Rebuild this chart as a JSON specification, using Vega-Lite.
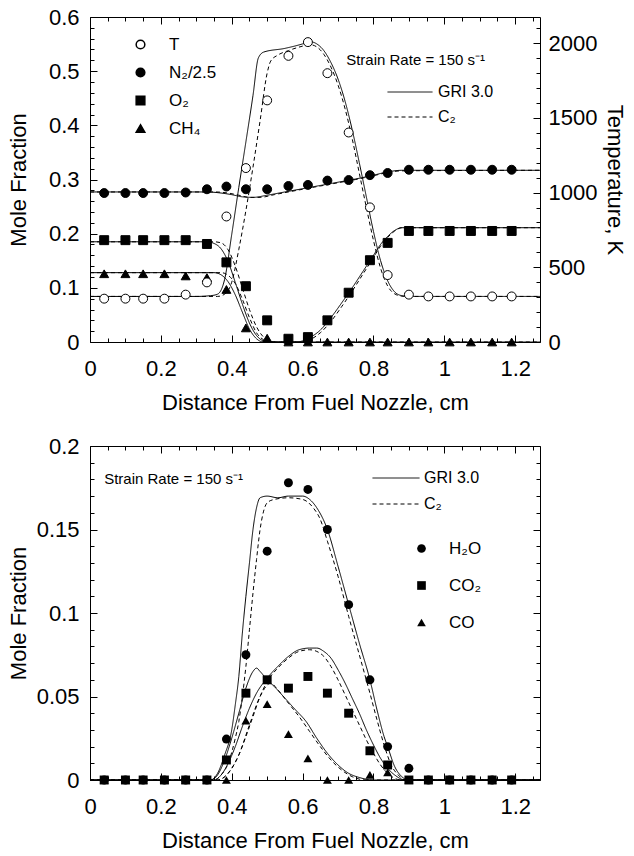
{
  "$schema": "https://vega.github.io/schema/vega-lite/v6.json",
  "padding": {"left": 6, "top": 5, "right": 5, "bottom": 0},
  "spacing": 20,
  "config": {
    "font": "Liberation Sans",
    "view": {"stroke": "black", "strokeWidth": 1},
    "axis": {
      "labelFont": "Liberation Sans", "titleFont": "Liberation Sans",
      "labelFontSize": 22, "titleFontSize": 22, "titleFontWeight": "normal",
      "labelColor": "black", "titleColor": "black", "tickColor": "black",
      "domain": false, "grid": false, "labelOverlap": false, "labelFlush": false, "tickCount": 1000
    },
    "axisX": {"labelPadding": 23, "titlePadding": 10},
    "axisY": {"labelPadding": 18},
    "legend": {"labelFont": "Liberation Sans", "labelColor": "black"}
  },
  "resolve": {
    "scale": {"shape": "independent", "fill": "independent", "strokeDash": "independent"},
    "legend": {"shape": "independent", "fill": "independent", "strokeDash": "independent"}
  },
  "datasets": {
    "top_points": [
      {"x": 0.04, "species": "N₂/2.5", "value": 0.275}, {"x": 0.1, "species": "N₂/2.5", "value": 0.275}, {"x": 0.15, "species": "N₂/2.5", "value": 0.275}, {"x": 0.21, "species": "N₂/2.5", "value": 0.275}, {"x": 0.27, "species": "N₂/2.5", "value": 0.276}, {"x": 0.33, "species": "N₂/2.5", "value": 0.282}, {"x": 0.385, "species": "N₂/2.5", "value": 0.287}, {"x": 0.44, "species": "N₂/2.5", "value": 0.282}, {"x": 0.5, "species": "N₂/2.5", "value": 0.282}, {"x": 0.56, "species": "N₂/2.5", "value": 0.288}, {"x": 0.615, "species": "N₂/2.5", "value": 0.29}, {"x": 0.67, "species": "N₂/2.5", "value": 0.298}, {"x": 0.73, "species": "N₂/2.5", "value": 0.299}, {"x": 0.79, "species": "N₂/2.5", "value": 0.308}, {"x": 0.84, "species": "N₂/2.5", "value": 0.312}, {"x": 0.9, "species": "N₂/2.5", "value": 0.318}, {"x": 0.955, "species": "N₂/2.5", "value": 0.318}, {"x": 1.015, "species": "N₂/2.5", "value": 0.318}, {"x": 1.075, "species": "N₂/2.5", "value": 0.318}, {"x": 1.135, "species": "N₂/2.5", "value": 0.318}, {"x": 1.19, "species": "N₂/2.5", "value": 0.318},
      {"x": 0.04, "species": "O₂", "value": 0.188}, {"x": 0.1, "species": "O₂", "value": 0.188}, {"x": 0.15, "species": "O₂", "value": 0.188}, {"x": 0.21, "species": "O₂", "value": 0.188}, {"x": 0.27, "species": "O₂", "value": 0.188}, {"x": 0.33, "species": "O₂", "value": 0.181}, {"x": 0.385, "species": "O₂", "value": 0.147}, {"x": 0.44, "species": "O₂", "value": 0.103}, {"x": 0.5, "species": "O₂", "value": 0.04}, {"x": 0.56, "species": "O₂", "value": 0.006}, {"x": 0.615, "species": "O₂", "value": 0.009}, {"x": 0.67, "species": "O₂", "value": 0.04}, {"x": 0.73, "species": "O₂", "value": 0.091}, {"x": 0.79, "species": "O₂", "value": 0.151}, {"x": 0.84, "species": "O₂", "value": 0.183}, {"x": 0.9, "species": "O₂", "value": 0.205}, {"x": 0.955, "species": "O₂", "value": 0.205}, {"x": 1.015, "species": "O₂", "value": 0.205}, {"x": 1.075, "species": "O₂", "value": 0.205}, {"x": 1.135, "species": "O₂", "value": 0.205}, {"x": 1.19, "species": "O₂", "value": 0.205},
      {"x": 0.04, "species": "CH₄", "value": 0.126}, {"x": 0.1, "species": "CH₄", "value": 0.126}, {"x": 0.15, "species": "CH₄", "value": 0.126}, {"x": 0.21, "species": "CH₄", "value": 0.126}, {"x": 0.27, "species": "CH₄", "value": 0.122}, {"x": 0.33, "species": "CH₄", "value": 0.119}, {"x": 0.385, "species": "CH₄", "value": 0.097}, {"x": 0.44, "species": "CH₄", "value": 0.026}, {"x": 0.5, "species": "CH₄", "value": 0.007}, {"x": 0.56, "species": "CH₄", "value": 0}, {"x": 0.615, "species": "CH₄", "value": 0}, {"x": 0.67, "species": "CH₄", "value": 0}, {"x": 0.73, "species": "CH₄", "value": 0}, {"x": 0.79, "species": "CH₄", "value": 0}, {"x": 0.84, "species": "CH₄", "value": 0}, {"x": 0.9, "species": "CH₄", "value": 0}, {"x": 0.955, "species": "CH₄", "value": 0}, {"x": 1.015, "species": "CH₄", "value": 0}, {"x": 1.075, "species": "CH₄", "value": 0}, {"x": 1.135, "species": "CH₄", "value": 0}, {"x": 1.19, "species": "CH₄", "value": 0}
    ],
    "top_T_points": [
      {"x": 0.04, "species": "T", "value": 290}, {"x": 0.1, "species": "T", "value": 290}, {"x": 0.15, "species": "T", "value": 290}, {"x": 0.21, "species": "T", "value": 290}, {"x": 0.27, "species": "T", "value": 317}, {"x": 0.33, "species": "T", "value": 399}, {"x": 0.385, "species": "T", "value": 840}, {"x": 0.44, "species": "T", "value": 1164}, {"x": 0.5, "species": "T", "value": 1617}, {"x": 0.56, "species": "T", "value": 1915}, {"x": 0.615, "species": "T", "value": 2007}, {"x": 0.67, "species": "T", "value": 1799}, {"x": 0.73, "species": "T", "value": 1402}, {"x": 0.79, "species": "T", "value": 901}, {"x": 0.84, "species": "T", "value": 448}, {"x": 0.9, "species": "T", "value": 317}, {"x": 0.955, "species": "T", "value": 305}, {"x": 1.015, "species": "T", "value": 305}, {"x": 1.075, "species": "T", "value": 305}, {"x": 1.135, "species": "T", "value": 305}, {"x": 1.19, "species": "T", "value": 305}
    ],
    "top_lines": [
      {"x": 0, "species": "N₂/2.5", "model": "GRI 3.0", "value": 0.277}, {"x": 0.33, "species": "N₂/2.5", "model": "GRI 3.0", "value": 0.277}, {"x": 0.37, "species": "N₂/2.5", "model": "GRI 3.0", "value": 0.275}, {"x": 0.4, "species": "N₂/2.5", "model": "GRI 3.0", "value": 0.272}, {"x": 0.43, "species": "N₂/2.5", "model": "GRI 3.0", "value": 0.268}, {"x": 0.46, "species": "N₂/2.5", "model": "GRI 3.0", "value": 0.267}, {"x": 0.5, "species": "N₂/2.5", "model": "GRI 3.0", "value": 0.271}, {"x": 0.55, "species": "N₂/2.5", "model": "GRI 3.0", "value": 0.277}, {"x": 0.6, "species": "N₂/2.5", "model": "GRI 3.0", "value": 0.283}, {"x": 0.65, "species": "N₂/2.5", "model": "GRI 3.0", "value": 0.289}, {"x": 0.7, "species": "N₂/2.5", "model": "GRI 3.0", "value": 0.295}, {"x": 0.75, "species": "N₂/2.5", "model": "GRI 3.0", "value": 0.301}, {"x": 0.8, "species": "N₂/2.5", "model": "GRI 3.0", "value": 0.308}, {"x": 0.84, "species": "N₂/2.5", "model": "GRI 3.0", "value": 0.314}, {"x": 0.88, "species": "N₂/2.5", "model": "GRI 3.0", "value": 0.317}, {"x": 1.27, "species": "N₂/2.5", "model": "GRI 3.0", "value": 0.317},
      {"x": 0, "species": "N₂/2.5", "model": "C₂", "value": 0.277}, {"x": 0.35, "species": "N₂/2.5", "model": "C₂", "value": 0.277}, {"x": 0.39, "species": "N₂/2.5", "model": "C₂", "value": 0.275}, {"x": 0.42, "species": "N₂/2.5", "model": "C₂", "value": 0.271}, {"x": 0.45, "species": "N₂/2.5", "model": "C₂", "value": 0.267}, {"x": 0.48, "species": "N₂/2.5", "model": "C₂", "value": 0.267}, {"x": 0.52, "species": "N₂/2.5", "model": "C₂", "value": 0.272}, {"x": 0.56, "species": "N₂/2.5", "model": "C₂", "value": 0.277}, {"x": 0.6, "species": "N₂/2.5", "model": "C₂", "value": 0.282}, {"x": 0.65, "species": "N₂/2.5", "model": "C₂", "value": 0.288}, {"x": 0.7, "species": "N₂/2.5", "model": "C₂", "value": 0.294}, {"x": 0.75, "species": "N₂/2.5", "model": "C₂", "value": 0.3}, {"x": 0.8, "species": "N₂/2.5", "model": "C₂", "value": 0.307}, {"x": 0.84, "species": "N₂/2.5", "model": "C₂", "value": 0.313}, {"x": 0.88, "species": "N₂/2.5", "model": "C₂", "value": 0.316}, {"x": 1.27, "species": "N₂/2.5", "model": "C₂", "value": 0.317},
      {"x": 0, "species": "O₂", "model": "GRI 3.0", "value": 0.185}, {"x": 0.33, "species": "O₂", "model": "GRI 3.0", "value": 0.185}, {"x": 0.35, "species": "O₂", "model": "GRI 3.0", "value": 0.182}, {"x": 0.37, "species": "O₂", "model": "GRI 3.0", "value": 0.172}, {"x": 0.39, "species": "O₂", "model": "GRI 3.0", "value": 0.148}, {"x": 0.41, "species": "O₂", "model": "GRI 3.0", "value": 0.11}, {"x": 0.43, "species": "O₂", "model": "GRI 3.0", "value": 0.07}, {"x": 0.45, "species": "O₂", "model": "GRI 3.0", "value": 0.035}, {"x": 0.47, "species": "O₂", "model": "GRI 3.0", "value": 0.012}, {"x": 0.49, "species": "O₂", "model": "GRI 3.0", "value": 0.002}, {"x": 0.51, "species": "O₂", "model": "GRI 3.0", "value": 0}, {"x": 0.58, "species": "O₂", "model": "GRI 3.0", "value": 0}, {"x": 0.6, "species": "O₂", "model": "GRI 3.0", "value": 0.002}, {"x": 0.62, "species": "O₂", "model": "GRI 3.0", "value": 0.008}, {"x": 0.65, "species": "O₂", "model": "GRI 3.0", "value": 0.022}, {"x": 0.68, "species": "O₂", "model": "GRI 3.0", "value": 0.045}, {"x": 0.71, "species": "O₂", "model": "GRI 3.0", "value": 0.072}, {"x": 0.74, "species": "O₂", "model": "GRI 3.0", "value": 0.1}, {"x": 0.77, "species": "O₂", "model": "GRI 3.0", "value": 0.13}, {"x": 0.8, "species": "O₂", "model": "GRI 3.0", "value": 0.16}, {"x": 0.82, "species": "O₂", "model": "GRI 3.0", "value": 0.18}, {"x": 0.84, "species": "O₂", "model": "GRI 3.0", "value": 0.195}, {"x": 0.86, "species": "O₂", "model": "GRI 3.0", "value": 0.206}, {"x": 0.88, "species": "O₂", "model": "GRI 3.0", "value": 0.211}, {"x": 1.27, "species": "O₂", "model": "GRI 3.0", "value": 0.211},
      {"x": 0, "species": "O₂", "model": "C₂", "value": 0.185}, {"x": 0.35, "species": "O₂", "model": "C₂", "value": 0.185}, {"x": 0.37, "species": "O₂", "model": "C₂", "value": 0.183}, {"x": 0.39, "species": "O₂", "model": "C₂", "value": 0.17}, {"x": 0.41, "species": "O₂", "model": "C₂", "value": 0.14}, {"x": 0.43, "species": "O₂", "model": "C₂", "value": 0.1}, {"x": 0.45, "species": "O₂", "model": "C₂", "value": 0.06}, {"x": 0.47, "species": "O₂", "model": "C₂", "value": 0.028}, {"x": 0.49, "species": "O₂", "model": "C₂", "value": 0.009}, {"x": 0.51, "species": "O₂", "model": "C₂", "value": 0.001}, {"x": 0.53, "species": "O₂", "model": "C₂", "value": 0}, {"x": 0.6, "species": "O₂", "model": "C₂", "value": 0}, {"x": 0.62, "species": "O₂", "model": "C₂", "value": 0.004}, {"x": 0.65, "species": "O₂", "model": "C₂", "value": 0.017}, {"x": 0.68, "species": "O₂", "model": "C₂", "value": 0.038}, {"x": 0.71, "species": "O₂", "model": "C₂", "value": 0.065}, {"x": 0.74, "species": "O₂", "model": "C₂", "value": 0.094}, {"x": 0.77, "species": "O₂", "model": "C₂", "value": 0.125}, {"x": 0.8, "species": "O₂", "model": "C₂", "value": 0.156}, {"x": 0.82, "species": "O₂", "model": "C₂", "value": 0.177}, {"x": 0.84, "species": "O₂", "model": "C₂", "value": 0.193}, {"x": 0.86, "species": "O₂", "model": "C₂", "value": 0.205}, {"x": 0.88, "species": "O₂", "model": "C₂", "value": 0.211}, {"x": 1.27, "species": "O₂", "model": "C₂", "value": 0.211},
      {"x": 0, "species": "CH₄", "model": "GRI 3.0", "value": 0.128}, {"x": 0.35, "species": "CH₄", "model": "GRI 3.0", "value": 0.128}, {"x": 0.37, "species": "CH₄", "model": "GRI 3.0", "value": 0.124}, {"x": 0.39, "species": "CH₄", "model": "GRI 3.0", "value": 0.111}, {"x": 0.41, "species": "CH₄", "model": "GRI 3.0", "value": 0.087}, {"x": 0.43, "species": "CH₄", "model": "GRI 3.0", "value": 0.055}, {"x": 0.45, "species": "CH₄", "model": "GRI 3.0", "value": 0.024}, {"x": 0.47, "species": "CH₄", "model": "GRI 3.0", "value": 0.006}, {"x": 0.49, "species": "CH₄", "model": "GRI 3.0", "value": 0}, {"x": 1.27, "species": "CH₄", "model": "GRI 3.0", "value": 0},
      {"x": 0, "species": "CH₄", "model": "C₂", "value": 0.128}, {"x": 0.37, "species": "CH₄", "model": "C₂", "value": 0.128}, {"x": 0.39, "species": "CH₄", "model": "C₂", "value": 0.123}, {"x": 0.41, "species": "CH₄", "model": "C₂", "value": 0.108}, {"x": 0.43, "species": "CH₄", "model": "C₂", "value": 0.079}, {"x": 0.45, "species": "CH₄", "model": "C₂", "value": 0.045}, {"x": 0.47, "species": "CH₄", "model": "C₂", "value": 0.017}, {"x": 0.49, "species": "CH₄", "model": "C₂", "value": 0.004}, {"x": 0.51, "species": "CH₄", "model": "C₂", "value": 0}, {"x": 1.27, "species": "CH₄", "model": "C₂", "value": 0}
    ],
    "top_T_lines": [
      {"x": 0, "model": "GRI 3.0", "value": 305}, {"x": 0.3, "model": "GRI 3.0", "value": 305}, {"x": 0.34, "model": "GRI 3.0", "value": 310}, {"x": 0.36, "model": "GRI 3.0", "value": 320}, {"x": 0.38, "model": "GRI 3.0", "value": 420}, {"x": 0.4, "model": "GRI 3.0", "value": 720}, {"x": 0.42, "model": "GRI 3.0", "value": 1035}, {"x": 0.44, "model": "GRI 3.0", "value": 1340}, {"x": 0.46, "model": "GRI 3.0", "value": 1650}, {"x": 0.475, "model": "GRI 3.0", "value": 1900}, {"x": 0.49, "model": "GRI 3.0", "value": 1940}, {"x": 0.55, "model": "GRI 3.0", "value": 1965}, {"x": 0.6, "model": "GRI 3.0", "value": 1995}, {"x": 0.62, "model": "GRI 3.0", "value": 2010}, {"x": 0.64, "model": "GRI 3.0", "value": 1995}, {"x": 0.66, "model": "GRI 3.0", "value": 1950}, {"x": 0.68, "model": "GRI 3.0", "value": 1870}, {"x": 0.7, "model": "GRI 3.0", "value": 1760}, {"x": 0.72, "model": "GRI 3.0", "value": 1610}, {"x": 0.74, "model": "GRI 3.0", "value": 1420}, {"x": 0.76, "model": "GRI 3.0", "value": 1200}, {"x": 0.78, "model": "GRI 3.0", "value": 970}, {"x": 0.8, "model": "GRI 3.0", "value": 740}, {"x": 0.82, "model": "GRI 3.0", "value": 545}, {"x": 0.84, "model": "GRI 3.0", "value": 410}, {"x": 0.86, "model": "GRI 3.0", "value": 335}, {"x": 0.88, "model": "GRI 3.0", "value": 310}, {"x": 0.9, "model": "GRI 3.0", "value": 305}, {"x": 1.27, "model": "GRI 3.0", "value": 305},
      {"x": 0, "model": "C₂", "value": 305}, {"x": 0.36, "model": "C₂", "value": 305}, {"x": 0.38, "model": "C₂", "value": 320}, {"x": 0.4, "model": "C₂", "value": 400}, {"x": 0.42, "model": "C₂", "value": 620}, {"x": 0.44, "model": "C₂", "value": 880}, {"x": 0.46, "model": "C₂", "value": 1170}, {"x": 0.48, "model": "C₂", "value": 1480}, {"x": 0.5, "model": "C₂", "value": 1800}, {"x": 0.51, "model": "C₂", "value": 1880}, {"x": 0.53, "model": "C₂", "value": 1920}, {"x": 0.56, "model": "C₂", "value": 1950}, {"x": 0.6, "model": "C₂", "value": 1980}, {"x": 0.62, "model": "C₂", "value": 1990}, {"x": 0.64, "model": "C₂", "value": 1975}, {"x": 0.66, "model": "C₂", "value": 1925}, {"x": 0.68, "model": "C₂", "value": 1840}, {"x": 0.7, "model": "C₂", "value": 1720}, {"x": 0.72, "model": "C₂", "value": 1560}, {"x": 0.74, "model": "C₂", "value": 1360}, {"x": 0.76, "model": "C₂", "value": 1130}, {"x": 0.78, "model": "C₂", "value": 900}, {"x": 0.8, "model": "C₂", "value": 680}, {"x": 0.82, "model": "C₂", "value": 495}, {"x": 0.84, "model": "C₂", "value": 375}, {"x": 0.86, "model": "C₂", "value": 322}, {"x": 0.88, "model": "C₂", "value": 307}, {"x": 0.9, "model": "C₂", "value": 305}, {"x": 1.27, "model": "C₂", "value": 305}
    ],
    "bottom_points": [
      {"x": 0.04, "species": "H₂O", "value": 0}, {"x": 0.1, "species": "H₂O", "value": 0}, {"x": 0.15, "species": "H₂O", "value": 0}, {"x": 0.21, "species": "H₂O", "value": 0}, {"x": 0.27, "species": "H₂O", "value": 0}, {"x": 0.33, "species": "H₂O", "value": 0}, {"x": 0.385, "species": "H₂O", "value": 0.0245}, {"x": 0.44, "species": "H₂O", "value": 0.075}, {"x": 0.5, "species": "H₂O", "value": 0.137}, {"x": 0.56, "species": "H₂O", "value": 0.178}, {"x": 0.615, "species": "H₂O", "value": 0.174}, {"x": 0.67, "species": "H₂O", "value": 0.15}, {"x": 0.73, "species": "H₂O", "value": 0.105}, {"x": 0.79, "species": "H₂O", "value": 0.06}, {"x": 0.84, "species": "H₂O", "value": 0.02}, {"x": 0.9, "species": "H₂O", "value": 0.007}, {"x": 0.955, "species": "H₂O", "value": 0}, {"x": 1.015, "species": "H₂O", "value": 0}, {"x": 1.075, "species": "H₂O", "value": 0}, {"x": 1.135, "species": "H₂O", "value": 0}, {"x": 1.19, "species": "H₂O", "value": 0},
      {"x": 0.04, "species": "CO", "value": 0}, {"x": 0.1, "species": "CO", "value": 0}, {"x": 0.15, "species": "CO", "value": 0}, {"x": 0.21, "species": "CO", "value": 0}, {"x": 0.27, "species": "CO", "value": 0}, {"x": 0.33, "species": "CO", "value": 0}, {"x": 0.385, "species": "CO", "value": 0}, {"x": 0.44, "species": "CO", "value": 0.0355}, {"x": 0.5, "species": "CO", "value": 0.0455}, {"x": 0.56, "species": "CO", "value": 0.0275}, {"x": 0.615, "species": "CO", "value": 0.013}, {"x": 0.67, "species": "CO", "value": 0}, {"x": 0.73, "species": "CO", "value": 0}, {"x": 0.79, "species": "CO", "value": 0.003}, {"x": 0.84, "species": "CO", "value": 0.0045}, {"x": 0.9, "species": "CO", "value": 0}, {"x": 0.955, "species": "CO", "value": 0}, {"x": 1.015, "species": "CO", "value": 0}, {"x": 1.075, "species": "CO", "value": 0}, {"x": 1.135, "species": "CO", "value": 0}, {"x": 1.19, "species": "CO", "value": 0},
      {"x": 0.04, "species": "CO₂", "value": 0}, {"x": 0.1, "species": "CO₂", "value": 0}, {"x": 0.15, "species": "CO₂", "value": 0}, {"x": 0.21, "species": "CO₂", "value": 0}, {"x": 0.27, "species": "CO₂", "value": 0}, {"x": 0.33, "species": "CO₂", "value": 0}, {"x": 0.385, "species": "CO₂", "value": 0.012}, {"x": 0.44, "species": "CO₂", "value": 0.052}, {"x": 0.5, "species": "CO₂", "value": 0.06}, {"x": 0.56, "species": "CO₂", "value": 0.055}, {"x": 0.615, "species": "CO₂", "value": 0.062}, {"x": 0.67, "species": "CO₂", "value": 0.052}, {"x": 0.73, "species": "CO₂", "value": 0.04}, {"x": 0.79, "species": "CO₂", "value": 0.0175}, {"x": 0.84, "species": "CO₂", "value": 0.009}, {"x": 0.9, "species": "CO₂", "value": 0}, {"x": 0.955, "species": "CO₂", "value": 0}, {"x": 1.015, "species": "CO₂", "value": 0}, {"x": 1.075, "species": "CO₂", "value": 0}, {"x": 1.135, "species": "CO₂", "value": 0}, {"x": 1.19, "species": "CO₂", "value": 0}
    ],
    "bottom_lines": [
      {"x": 0, "species": "H₂O", "model": "GRI 3.0", "value": 0}, {"x": 0.34, "species": "H₂O", "model": "GRI 3.0", "value": 0}, {"x": 0.36, "species": "H₂O", "model": "GRI 3.0", "value": 0.004}, {"x": 0.38, "species": "H₂O", "model": "GRI 3.0", "value": 0.015}, {"x": 0.4, "species": "H₂O", "model": "GRI 3.0", "value": 0.03}, {"x": 0.41, "species": "H₂O", "model": "GRI 3.0", "value": 0.045}, {"x": 0.42, "species": "H₂O", "model": "GRI 3.0", "value": 0.062}, {"x": 0.43, "species": "H₂O", "model": "GRI 3.0", "value": 0.088}, {"x": 0.44, "species": "H₂O", "model": "GRI 3.0", "value": 0.11}, {"x": 0.45, "species": "H₂O", "model": "GRI 3.0", "value": 0.13}, {"x": 0.46, "species": "H₂O", "model": "GRI 3.0", "value": 0.15}, {"x": 0.47, "species": "H₂O", "model": "GRI 3.0", "value": 0.163}, {"x": 0.48, "species": "H₂O", "model": "GRI 3.0", "value": 0.169}, {"x": 0.5, "species": "H₂O", "model": "GRI 3.0", "value": 0.17}, {"x": 0.53, "species": "H₂O", "model": "GRI 3.0", "value": 0.169}, {"x": 0.56, "species": "H₂O", "model": "GRI 3.0", "value": 0.17}, {"x": 0.6, "species": "H₂O", "model": "GRI 3.0", "value": 0.17}, {"x": 0.62, "species": "H₂O", "model": "GRI 3.0", "value": 0.168}, {"x": 0.64, "species": "H₂O", "model": "GRI 3.0", "value": 0.163}, {"x": 0.67, "species": "H₂O", "model": "GRI 3.0", "value": 0.15}, {"x": 0.7, "species": "H₂O", "model": "GRI 3.0", "value": 0.128}, {"x": 0.73, "species": "H₂O", "model": "GRI 3.0", "value": 0.105}, {"x": 0.76, "species": "H₂O", "model": "GRI 3.0", "value": 0.082}, {"x": 0.79, "species": "H₂O", "model": "GRI 3.0", "value": 0.06}, {"x": 0.81, "species": "H₂O", "model": "GRI 3.0", "value": 0.042}, {"x": 0.83, "species": "H₂O", "model": "GRI 3.0", "value": 0.026}, {"x": 0.84, "species": "H₂O", "model": "GRI 3.0", "value": 0.02}, {"x": 0.86, "species": "H₂O", "model": "GRI 3.0", "value": 0.008}, {"x": 0.88, "species": "H₂O", "model": "GRI 3.0", "value": 0.002}, {"x": 0.9, "species": "H₂O", "model": "GRI 3.0", "value": 0}, {"x": 1.27, "species": "H₂O", "model": "GRI 3.0", "value": 0},
      {"x": 0, "species": "H₂O", "model": "C₂", "value": 0}, {"x": 0.35, "species": "H₂O", "model": "C₂", "value": 0}, {"x": 0.37, "species": "H₂O", "model": "C₂", "value": 0.003}, {"x": 0.39, "species": "H₂O", "model": "C₂", "value": 0.01}, {"x": 0.41, "species": "H₂O", "model": "C₂", "value": 0.025}, {"x": 0.42, "species": "H₂O", "model": "C₂", "value": 0.035}, {"x": 0.43, "species": "H₂O", "model": "C₂", "value": 0.05}, {"x": 0.44, "species": "H₂O", "model": "C₂", "value": 0.068}, {"x": 0.45, "species": "H₂O", "model": "C₂", "value": 0.09}, {"x": 0.46, "species": "H₂O", "model": "C₂", "value": 0.112}, {"x": 0.47, "species": "H₂O", "model": "C₂", "value": 0.132}, {"x": 0.48, "species": "H₂O", "model": "C₂", "value": 0.15}, {"x": 0.49, "species": "H₂O", "model": "C₂", "value": 0.161}, {"x": 0.5, "species": "H₂O", "model": "C₂", "value": 0.166}, {"x": 0.52, "species": "H₂O", "model": "C₂", "value": 0.168}, {"x": 0.56, "species": "H₂O", "model": "C₂", "value": 0.169}, {"x": 0.6, "species": "H₂O", "model": "C₂", "value": 0.168}, {"x": 0.63, "species": "H₂O", "model": "C₂", "value": 0.163}, {"x": 0.65, "species": "H₂O", "model": "C₂", "value": 0.156}, {"x": 0.67, "species": "H₂O", "model": "C₂", "value": 0.143}, {"x": 0.7, "species": "H₂O", "model": "C₂", "value": 0.122}, {"x": 0.73, "species": "H₂O", "model": "C₂", "value": 0.098}, {"x": 0.76, "species": "H₂O", "model": "C₂", "value": 0.075}, {"x": 0.79, "species": "H₂O", "model": "C₂", "value": 0.052}, {"x": 0.81, "species": "H₂O", "model": "C₂", "value": 0.036}, {"x": 0.83, "species": "H₂O", "model": "C₂", "value": 0.021}, {"x": 0.85, "species": "H₂O", "model": "C₂", "value": 0.009}, {"x": 0.87, "species": "H₂O", "model": "C₂", "value": 0.003}, {"x": 0.89, "species": "H₂O", "model": "C₂", "value": 0}, {"x": 1.27, "species": "H₂O", "model": "C₂", "value": 0},
      {"x": 0, "species": "CO₂", "model": "GRI 3.0", "value": 0}, {"x": 0.35, "species": "CO₂", "model": "GRI 3.0", "value": 0}, {"x": 0.37, "species": "CO₂", "model": "GRI 3.0", "value": 0.003}, {"x": 0.39, "species": "CO₂", "model": "GRI 3.0", "value": 0.01}, {"x": 0.41, "species": "CO₂", "model": "GRI 3.0", "value": 0.02}, {"x": 0.43, "species": "CO₂", "model": "GRI 3.0", "value": 0.032}, {"x": 0.45, "species": "CO₂", "model": "GRI 3.0", "value": 0.043}, {"x": 0.47, "species": "CO₂", "model": "GRI 3.0", "value": 0.052}, {"x": 0.5, "species": "CO₂", "model": "GRI 3.0", "value": 0.061}, {"x": 0.53, "species": "CO₂", "model": "GRI 3.0", "value": 0.068}, {"x": 0.56, "species": "CO₂", "model": "GRI 3.0", "value": 0.074}, {"x": 0.59, "species": "CO₂", "model": "GRI 3.0", "value": 0.078}, {"x": 0.62, "species": "CO₂", "model": "GRI 3.0", "value": 0.079}, {"x": 0.64, "species": "CO₂", "model": "GRI 3.0", "value": 0.079}, {"x": 0.66, "species": "CO₂", "model": "GRI 3.0", "value": 0.077}, {"x": 0.68, "species": "CO₂", "model": "GRI 3.0", "value": 0.073}, {"x": 0.7, "species": "CO₂", "model": "GRI 3.0", "value": 0.066}, {"x": 0.72, "species": "CO₂", "model": "GRI 3.0", "value": 0.058}, {"x": 0.74, "species": "CO₂", "model": "GRI 3.0", "value": 0.049}, {"x": 0.76, "species": "CO₂", "model": "GRI 3.0", "value": 0.04}, {"x": 0.78, "species": "CO₂", "model": "GRI 3.0", "value": 0.03}, {"x": 0.8, "species": "CO₂", "model": "GRI 3.0", "value": 0.021}, {"x": 0.82, "species": "CO₂", "model": "GRI 3.0", "value": 0.013}, {"x": 0.84, "species": "CO₂", "model": "GRI 3.0", "value": 0.007}, {"x": 0.86, "species": "CO₂", "model": "GRI 3.0", "value": 0.003}, {"x": 0.89, "species": "CO₂", "model": "GRI 3.0", "value": 0}, {"x": 1.27, "species": "CO₂", "model": "GRI 3.0", "value": 0},
      {"x": 0, "species": "CO₂", "model": "C₂", "value": 0}, {"x": 0.36, "species": "CO₂", "model": "C₂", "value": 0}, {"x": 0.38, "species": "CO₂", "model": "C₂", "value": 0.002}, {"x": 0.4, "species": "CO₂", "model": "C₂", "value": 0.007}, {"x": 0.42, "species": "CO₂", "model": "C₂", "value": 0.015}, {"x": 0.44, "species": "CO₂", "model": "C₂", "value": 0.026}, {"x": 0.46, "species": "CO₂", "model": "C₂", "value": 0.038}, {"x": 0.48, "species": "CO₂", "model": "C₂", "value": 0.05}, {"x": 0.5, "species": "CO₂", "model": "C₂", "value": 0.059}, {"x": 0.53, "species": "CO₂", "model": "C₂", "value": 0.067}, {"x": 0.56, "species": "CO₂", "model": "C₂", "value": 0.073}, {"x": 0.59, "species": "CO₂", "model": "C₂", "value": 0.077}, {"x": 0.62, "species": "CO₂", "model": "C₂", "value": 0.078}, {"x": 0.64, "species": "CO₂", "model": "C₂", "value": 0.077}, {"x": 0.66, "species": "CO₂", "model": "C₂", "value": 0.074}, {"x": 0.68, "species": "CO₂", "model": "C₂", "value": 0.068}, {"x": 0.7, "species": "CO₂", "model": "C₂", "value": 0.06}, {"x": 0.72, "species": "CO₂", "model": "C₂", "value": 0.051}, {"x": 0.74, "species": "CO₂", "model": "C₂", "value": 0.042}, {"x": 0.76, "species": "CO₂", "model": "C₂", "value": 0.033}, {"x": 0.78, "species": "CO₂", "model": "C₂", "value": 0.024}, {"x": 0.8, "species": "CO₂", "model": "C₂", "value": 0.016}, {"x": 0.82, "species": "CO₂", "model": "C₂", "value": 0.009}, {"x": 0.84, "species": "CO₂", "model": "C₂", "value": 0.004}, {"x": 0.86, "species": "CO₂", "model": "C₂", "value": 0.001}, {"x": 0.88, "species": "CO₂", "model": "C₂", "value": 0}, {"x": 1.27, "species": "CO₂", "model": "C₂", "value": 0},
      {"x": 0, "species": "CO", "model": "GRI 3.0", "value": 0}, {"x": 0.34, "species": "CO", "model": "GRI 3.0", "value": 0}, {"x": 0.36, "species": "CO", "model": "GRI 3.0", "value": 0.003}, {"x": 0.38, "species": "CO", "model": "GRI 3.0", "value": 0.012}, {"x": 0.4, "species": "CO", "model": "GRI 3.0", "value": 0.025}, {"x": 0.42, "species": "CO", "model": "GRI 3.0", "value": 0.04}, {"x": 0.44, "species": "CO", "model": "GRI 3.0", "value": 0.055}, {"x": 0.46, "species": "CO", "model": "GRI 3.0", "value": 0.065}, {"x": 0.47, "species": "CO", "model": "GRI 3.0", "value": 0.067}, {"x": 0.48, "species": "CO", "model": "GRI 3.0", "value": 0.065}, {"x": 0.5, "species": "CO", "model": "GRI 3.0", "value": 0.06}, {"x": 0.52, "species": "CO", "model": "GRI 3.0", "value": 0.056}, {"x": 0.55, "species": "CO", "model": "GRI 3.0", "value": 0.049}, {"x": 0.58, "species": "CO", "model": "GRI 3.0", "value": 0.042}, {"x": 0.61, "species": "CO", "model": "GRI 3.0", "value": 0.035}, {"x": 0.64, "species": "CO", "model": "GRI 3.0", "value": 0.025}, {"x": 0.67, "species": "CO", "model": "GRI 3.0", "value": 0.016}, {"x": 0.7, "species": "CO", "model": "GRI 3.0", "value": 0.009}, {"x": 0.73, "species": "CO", "model": "GRI 3.0", "value": 0.004}, {"x": 0.76, "species": "CO", "model": "GRI 3.0", "value": 0.0015}, {"x": 0.8, "species": "CO", "model": "GRI 3.0", "value": 0}, {"x": 1.27, "species": "CO", "model": "GRI 3.0", "value": 0},
      {"x": 0, "species": "CO", "model": "C₂", "value": 0}, {"x": 0.36, "species": "CO", "model": "C₂", "value": 0}, {"x": 0.39, "species": "CO", "model": "C₂", "value": 0.004}, {"x": 0.42, "species": "CO", "model": "C₂", "value": 0.015}, {"x": 0.45, "species": "CO", "model": "C₂", "value": 0.033}, {"x": 0.48, "species": "CO", "model": "C₂", "value": 0.05}, {"x": 0.51, "species": "CO", "model": "C₂", "value": 0.058}, {"x": 0.53, "species": "CO", "model": "C₂", "value": 0.054}, {"x": 0.56, "species": "CO", "model": "C₂", "value": 0.046}, {"x": 0.59, "species": "CO", "model": "C₂", "value": 0.038}, {"x": 0.62, "species": "CO", "model": "C₂", "value": 0.029}, {"x": 0.65, "species": "CO", "model": "C₂", "value": 0.02}, {"x": 0.68, "species": "CO", "model": "C₂", "value": 0.012}, {"x": 0.71, "species": "CO", "model": "C₂", "value": 0.006}, {"x": 0.74, "species": "CO", "model": "C₂", "value": 0.002}, {"x": 0.78, "species": "CO", "model": "C₂", "value": 0}, {"x": 1.27, "species": "CO", "model": "C₂", "value": 0}
    ]
  },
  "vconcat": [
    {
      "width": 450,
      "height": 325,
      "resolve": {"scale": {"y": "independent"}, "axis": {"x": "independent", "y": "independent"}},
      "layer": [
        {
          "layer": [
            {
              "data": {"name": "top_lines"},
              "mark": {"type": "line", "color": "black", "strokeWidth": 1, "interpolate": "monotone"},
              "encoding": {
                "x": {"field": "x", "type": "quantitative", "scale": {"domain": [0, 1.27], "nice": false},
                  "axis": {"orient": "bottom", "title": "Distance From Fuel Nozzle, cm", "format": "~g", "labelOverlap": false, "tickCount": 1000,
                    "values": [0, 0.05, 0.1, 0.15, 0.2, 0.25, 0.3, 0.35, 0.4, 0.45, 0.5, 0.55, 0.6, 0.65, 0.7, 0.75, 0.8, 0.85, 0.9, 0.95, 1, 1.05, 1.1, 1.15, 1.2, 1.25],
                    "labelExpr": "abs(datum.value*5 - round(datum.value*5)) < 1e-6 ? datum.label : ''",
                    "tickSize": {"condition": {"test": "abs(datum.value*5 - round(datum.value*5)) < 1e-6", "value": -7}, "value": -4}}},
                "y": {"field": "value", "type": "quantitative", "scale": {"domain": [0, 0.6], "nice": false},
                  "axis": {"orient": "left", "title": "Mole Fraction", "format": "~g", "minExtent": 60, "maxExtent": 60, "titlePadding": 0, "labelOverlap": false, "tickCount": 1000,
                    "values": [0, 0.02, 0.04, 0.06, 0.08, 0.1, 0.12, 0.14, 0.16, 0.18, 0.2, 0.22, 0.24, 0.26, 0.28, 0.3, 0.32, 0.34, 0.36, 0.38, 0.4, 0.42, 0.44, 0.46, 0.48, 0.5, 0.52, 0.54, 0.56, 0.58, 0.6],
                    "labelExpr": "abs(datum.value*10 - round(datum.value*10)) < 1e-6 ? datum.label : ''",
                    "tickSize": {"condition": {"test": "abs(datum.value*10 - round(datum.value*10)) < 1e-6", "value": -7}, "value": -4}}},
                "strokeDash": {"field": "model", "type": "nominal",
                  "scale": {"domain": ["GRI 3.0", "C₂"], "range": [[1, 0], [4, 3]]},
                  "legend": {"orient": "none", "legendX": 297, "legendY": 67, "title": null, "labelFontSize": 16, "symbolSize": 2025, "symbolType": "stroke", "symbolStrokeWidth": 1, "symbolStrokeColor": "black", "clipHeight": 16, "rowPadding": 9, "labelOffset": 5}},
                "detail": {"field": "species"}
              }
            },
            {
              "data": {"name": "top_points"},
              "mark": {"type": "point", "filled": true, "stroke": "black", "strokeWidth": 1, "size": 80, "opacity": 1},
              "encoding": {
                "x": {"field": "x", "type": "quantitative"},
                "y": {"field": "value", "type": "quantitative"},
                "shape": {"field": "species", "type": "nominal",
                  "scale": {"domain": ["T", "N₂/2.5", "O₂", "CH₄"], "range": ["circle", "circle", "square", "triangle-up"]},
                  "legend": {"orient": "none", "legendX": 42, "legendY": 19, "title": null, "labelFontSize": 17, "symbolSize": 75, "rowPadding": 10, "labelOffset": 20,
                    "encode": {"symbols": {"update": {"stroke": {"value": "black"}, "strokeWidth": {"value": 1}}}}}},
                "fill": {"field": "species", "type": "nominal",
                  "scale": {"domain": ["T", "N₂/2.5", "O₂", "CH₄"], "range": ["white", "black", "black", "black"]},
                  "legend": {"orient": "none", "legendX": 42, "legendY": 19, "title": null, "labelFontSize": 17, "symbolSize": 75, "rowPadding": 10, "labelOffset": 20,
                    "encode": {"symbols": {"update": {"stroke": {"value": "black"}, "strokeWidth": {"value": 1}}}}}}
              }
            },
            {
              "data": {"values": [{}]},
              "mark": {"type": "text", "text": "Strain Rate = 150 s⁻¹", "align": "left", "baseline": "middle", "fontSize": 15, "font": "Liberation Sans", "color": "black"},
              "encoding": {
                "x": {"datum": 0.723, "type": "quantitative"},
                "y": {"datum": 0.52, "type": "quantitative"}
              }
            }
          ]
        },
        {
          "layer": [
            {
              "data": {"name": "top_T_lines"},
              "mark": {"type": "line", "color": "black", "strokeWidth": 1, "interpolate": "monotone"},
              "encoding": {
                "x": {"field": "x", "type": "quantitative",
                  "axis": {"orient": "top", "title": null, "labels": false, "tickCount": 1000,
                    "values": [0, 0.05, 0.1, 0.15, 0.2, 0.25, 0.3, 0.35, 0.4, 0.45, 0.5, 0.55, 0.6, 0.65, 0.7, 0.75, 0.8, 0.85, 0.9, 0.95, 1, 1.05, 1.1, 1.15, 1.2, 1.25],
                    "tickSize": {"condition": {"test": "abs(datum.value*5 - round(datum.value*5)) < 1e-6", "value": -7}, "value": -4}}},
                "y": {"field": "value", "type": "quantitative", "scale": {"domain": [0, 2175], "nice": false},
                  "axis": {"orient": "right", "title": "Temperature, K", "titleAngle": 90, "format": "d", "labelPadding": 15, "titlePadding": 6, "labelOverlap": false, "tickCount": 1000,
                    "values": [0, 100, 200, 300, 400, 500, 600, 700, 800, 900, 1000, 1100, 1200, 1300, 1400, 1500, 1600, 1700, 1800, 1900, 2000, 2100],
                    "labelExpr": "datum.value % 500 === 0 ? datum.label : ''",
                    "tickSize": {"condition": {"test": "datum.value % 500 === 0", "value": -7}, "value": -4}}},
                "strokeDash": {"field": "model", "type": "nominal"}
              }
            },
            {
              "data": {"name": "top_T_points"},
              "mark": {"type": "point", "filled": true, "stroke": "black", "strokeWidth": 1, "size": 80, "opacity": 1},
              "encoding": {
                "x": {"field": "x", "type": "quantitative"},
                "y": {"field": "value", "type": "quantitative"},
                "shape": {"field": "species", "type": "nominal"},
                "fill": {"field": "species", "type": "nominal"}
              }
            }
          ]
        }
      ]
    },
    {
      "width": 450,
      "height": 334,
      "resolve": {"axis": {"x": "independent", "y": "independent"}},
      "layer": [
        {
          "layer": [
            {
              "data": {"name": "bottom_lines"},
              "mark": {"type": "line", "color": "black", "strokeWidth": 1, "interpolate": "monotone"},
              "encoding": {
                "x": {"field": "x", "type": "quantitative", "scale": {"domain": [0, 1.27], "nice": false},
                  "axis": {"orient": "bottom", "title": "Distance From Fuel Nozzle, cm", "format": "~g", "labelOverlap": false, "tickCount": 1000,
                    "values": [0, 0.05, 0.1, 0.15, 0.2, 0.25, 0.3, 0.35, 0.4, 0.45, 0.5, 0.55, 0.6, 0.65, 0.7, 0.75, 0.8, 0.85, 0.9, 0.95, 1, 1.05, 1.1, 1.15, 1.2, 1.25],
                    "labelExpr": "abs(datum.value*5 - round(datum.value*5)) < 1e-6 ? datum.label : ''",
                    "tickSize": {"condition": {"test": "abs(datum.value*5 - round(datum.value*5)) < 1e-6", "value": -7}, "value": -4}}},
                "y": {"field": "value", "type": "quantitative", "scale": {"domain": [0, 0.2], "nice": false},
                  "axis": {"orient": "left", "title": "Mole Fraction", "format": "~g", "minExtent": 60, "maxExtent": 60, "titlePadding": 0, "labelOverlap": false, "tickCount": 1000,
                    "values": [0, 0.01, 0.02, 0.03, 0.04, 0.05, 0.06, 0.07, 0.08, 0.09, 0.1, 0.11, 0.12, 0.13, 0.14, 0.15, 0.16, 0.17, 0.18, 0.19, 0.2],
                    "labelExpr": "abs(datum.value*20 - round(datum.value*20)) < 1e-6 ? datum.label : ''",
                    "tickSize": {"condition": {"test": "abs(datum.value*20 - round(datum.value*20)) < 1e-6", "value": -7}, "value": -4}}},
                "strokeDash": {"field": "model", "type": "nominal",
                  "scale": {"domain": ["GRI 3.0", "C₂"], "range": [[1, 0], [4, 3]]},
                  "legend": {"orient": "none", "legendX": 282, "legendY": 24, "title": null, "labelFontSize": 16, "symbolSize": 2209, "symbolType": "stroke", "symbolStrokeWidth": 1, "symbolStrokeColor": "black", "clipHeight": 16, "rowPadding": 10, "labelOffset": 4}},
                "detail": {"field": "species"}
              }
            },
            {
              "data": {"values": [{}]},
              "mark": {"type": "text", "text": "Strain Rate = 150 s⁻¹", "align": "left", "baseline": "middle", "fontSize": 15, "font": "Liberation Sans", "color": "black"},
              "encoding": {
                "x": {"datum": 0.04, "type": "quantitative"},
                "y": {"datum": 0.18, "type": "quantitative"}
              }
            }
          ]
        },
        {
          "data": {"name": "bottom_points"},
          "mark": {"type": "point", "filled": true, "color": "black", "size": 80, "opacity": 1},
          "encoding": {
            "x": {"field": "x", "type": "quantitative",
              "axis": {"orient": "top", "title": null, "labels": false, "tickCount": 1000,
                "values": [0, 0.05, 0.1, 0.15, 0.2, 0.25, 0.3, 0.35, 0.4, 0.45, 0.5, 0.55, 0.6, 0.65, 0.7, 0.75, 0.8, 0.85, 0.9, 0.95, 1, 1.05, 1.1, 1.15, 1.2, 1.25],
                "tickSize": {"condition": {"test": "abs(datum.value*5 - round(datum.value*5)) < 1e-6", "value": -7}, "value": -4}}},
            "y": {"field": "value", "type": "quantitative",
              "axis": {"orient": "right", "title": null, "labels": false, "tickCount": 1000,
                "values": [0, 0.01, 0.02, 0.03, 0.04, 0.05, 0.06, 0.07, 0.08, 0.09, 0.1, 0.11, 0.12, 0.13, 0.14, 0.15, 0.16, 0.17, 0.18, 0.19, 0.2],
                "tickSize": {"condition": {"test": "abs(datum.value*20 - round(datum.value*20)) < 1e-6", "value": -7}, "value": -4}}},
            "shape": {"field": "species", "type": "nominal",
              "scale": {"domain": ["H₂O", "CO₂", "CO"], "range": ["circle", "square", "triangle-up"]},
              "legend": {"orient": "none", "legendX": 323, "legendY": 94, "title": null, "labelFontSize": 17, "symbolSize": 75, "rowPadding": 19, "labelOffset": 19, "symbolFillColor": "black", "symbolStrokeColor": "black"}}
          }
        }
      ]
    }
  ]
}
